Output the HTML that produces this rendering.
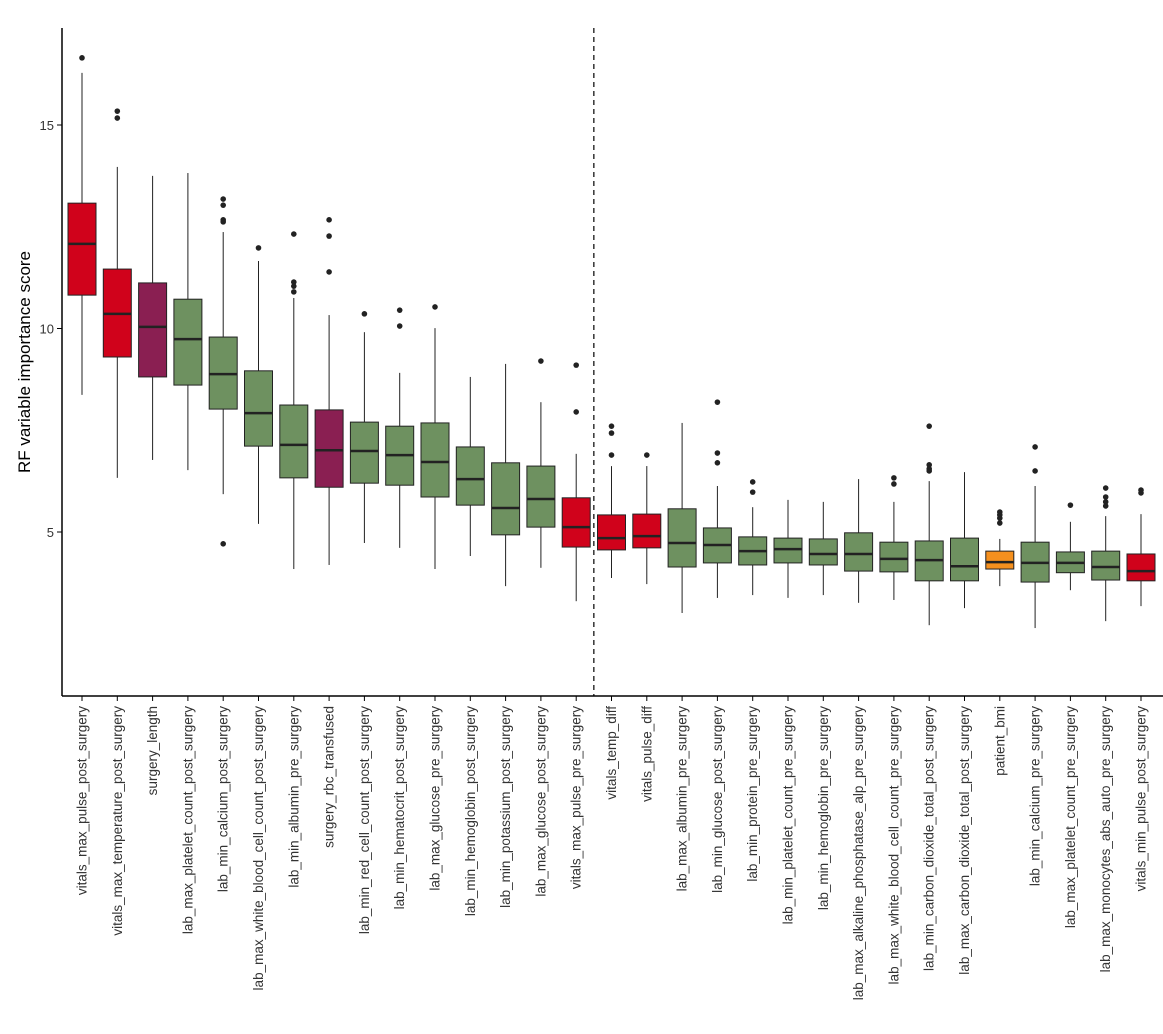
<!DOCTYPE html>
<html><head><meta charset="utf-8"><style>
html,body{margin:0;padding:0;background:#fff;}
svg{display:block;font-family:"Liberation Sans",Arial,sans-serif;}
</style></head><body>
<svg id="chart" width="1163" height="1034" viewBox="0 0 1163 1034" xmlns="http://www.w3.org/2000/svg"></svg>
<script>
const categories=["vitals_max_pulse_post_surgery","vitals_max_temperature_post_surgery","surgery_length","lab_max_platelet_count_post_surgery","lab_min_calcium_post_surgery","lab_max_white_blood_cell_count_post_surgery","lab_min_albumin_pre_surgery","surgery_rbc_transfused","lab_min_red_cell_count_post_surgery","lab_min_hematocrit_post_surgery","lab_max_glucose_pre_surgery","lab_min_hemoglobin_post_surgery","lab_min_potassium_post_surgery","lab_max_glucose_post_surgery","vitals_max_pulse_pre_surgery","vitals_temp_diff","vitals_pulse_diff","lab_max_albumin_pre_surgery","lab_min_glucose_post_surgery","lab_min_protein_pre_surgery","lab_min_platelet_count_pre_surgery","lab_min_hemoglobin_pre_surgery","lab_max_alkaline_phosphatase_alp_pre_surgery","lab_max_white_blood_cell_count_pre_surgery","lab_min_carbon_dioxide_total_post_surgery","lab_max_carbon_dioxide_total_post_surgery","patient_bmi","lab_min_calcium_pre_surgery","lab_max_platelet_count_pre_surgery","lab_max_monocytes_abs_auto_pre_surgery","vitals_min_pulse_post_surgery"];
const groups=["vitals","vitals","surgery","lab","lab","lab","lab","surgery","lab","lab","lab","lab","lab","lab","vitals","vitals","vitals","lab","lab","lab","lab","lab","lab","lab","lab","lab","patient","lab","lab","lab","vitals"];
const whiskerLow=[8.37,6.33,6.77,6.52,5.93,5.2,4.09,4.19,4.73,4.61,4.09,4.41,3.67,4.12,3.3,3.87,3.72,3.01,3.38,3.45,3.38,3.45,3.26,3.33,2.71,3.13,3.67,2.64,3.57,2.81,3.18];
const q1=[10.82,9.3,8.81,8.61,8.02,7.11,6.33,6.1,6.2,6.15,5.86,5.66,4.93,5.12,4.63,4.56,4.61,4.14,4.24,4.19,4.24,4.19,4.04,4.02,3.8,3.8,4.09,3.77,4.0,3.82,3.8];
const median=[12.08,10.36,10.04,9.74,8.88,7.92,7.14,7.01,6.99,6.89,6.72,6.3,5.59,5.81,5.12,4.85,4.9,4.73,4.68,4.53,4.58,4.46,4.46,4.34,4.31,4.16,4.26,4.24,4.24,4.14,4.04];
const q3=[13.08,11.46,11.12,10.72,9.79,8.96,8.12,8.0,7.7,7.6,7.68,7.09,6.7,6.62,5.84,5.42,5.44,5.57,5.1,4.88,4.85,4.83,4.98,4.75,4.78,4.85,4.53,4.75,4.51,4.53,4.46];
const whiskerHigh=[16.28,13.97,13.75,13.82,12.37,11.66,10.75,10.33,9.91,8.91,10.01,8.81,9.13,8.19,6.92,6.62,6.62,7.68,6.13,5.61,5.79,5.74,6.3,5.74,6.25,6.47,4.83,6.13,5.25,5.39,5.44];
const outliers=[[16.65],[15.34,15.17],[],[],[13.18,13.03,12.67,12.62,4.71],[11.98],[12.32,11.14,11.04,10.9],[12.67,12.27,11.39],[10.36],[10.45,10.06],[10.53],[],[],[9.2],[9.1,7.95],[7.6,7.43,6.89],[6.89],[],[8.19,6.94,6.7],[6.23,5.98],[],[],[],[6.33,6.18],[7.6,6.65,6.55,6.5],[],[5.49,5.42,5.34,5.22],[7.09,6.5],[5.66],[6.08,5.86,5.74,5.64],[6.03,5.96]];
const yTicks=[5,10,15];
const dividerAfter=14;

const colors={vitals:"#D0021B",surgery:"#8A1F52",lab:"#6E9160",patient:"#F5901E"};
const svg=document.getElementById('chart');
const NS="http://www.w3.org/2000/svg";
const X0=62,Y_AX=696,TOP=28,RIGHT=1163;
function y(v){return 532-(v-5)*40.7;}
function x(i){return 82+i*35.3;}
function el(t,a,p){const e=document.createElementNS(NS,t);for(const k in a)e.setAttribute(k,a[k]);(p||svg).appendChild(e);return e;}

const ya=el('line',{x1:X0,y1:TOP,x2:X0,y2:Y_AX,stroke:'#000','stroke-width':1.5});


const xa=el('line',{x1:X0,y1:Y_AX,x2:RIGHT,y2:Y_AX,stroke:'#000','stroke-width':1.5});



yTicks.forEach(t=>{
  const tk=el('line',{x1:X0-5,y1:y(t),x2:X0,y2:y(t),stroke:'#000','stroke-width':1});
  
  
  const lb=el('text',{x:X0-8,y:y(t)+5,'text-anchor':'end','font-size':13,fill:'#333'});
  lb.textContent=t;
  
  
});
const yt=el('text',{x:0,y:0,'text-anchor':'middle','font-size':17,fill:'#000',transform:'translate(30,362) rotate(-90)'});
yt.textContent='RF variable importance score';



const dx=(x(dividerAfter)+x(dividerAfter+1))/2;
const dv=el('line',{x1:dx,y1:TOP,x2:dx,y2:Y_AX,stroke:'#000','stroke-width':1.2,'stroke-dasharray':'5,4'});



const bw=28;
categories.forEach((c,i)=>{
  const cx=x(i);
  const g=el('g',{});
  
  
  el('line',{x1:cx,y1:y(whiskerHigh[i]),x2:cx,y2:y(q3[i]),stroke:'#222','stroke-width':1},g);
  el('line',{x1:cx,y1:y(q1[i]),x2:cx,y2:y(whiskerLow[i]),stroke:'#222','stroke-width':1},g);
  el('rect',{x:cx-bw/2,y:y(q3[i]),width:bw,height:y(q1[i])-y(q3[i]),fill:colors[groups[i]],stroke:'#222','stroke-width':1},g);
  el('line',{x1:cx-bw/2,y1:y(median[i]),x2:cx+bw/2,y2:y(median[i]),stroke:'#222','stroke-width':2.5},g);
  outliers[i].forEach(o=>{
    const p=el('circle',{cx:cx,cy:y(o),r:2.8,fill:'#222'},g);
    
    
  });
  const tk=el('line',{x1:cx,y1:Y_AX,x2:cx,y2:Y_AX+5,stroke:'#000','stroke-width':1});
  
  
  const lb=el('text',{x:0,y:0,'text-anchor':'end','font-size':13.5,fill:'#333',transform:`translate(${cx+4.5},706) rotate(-90)`});
  lb.textContent=c;
  
  
});
</script>
</body></html>
